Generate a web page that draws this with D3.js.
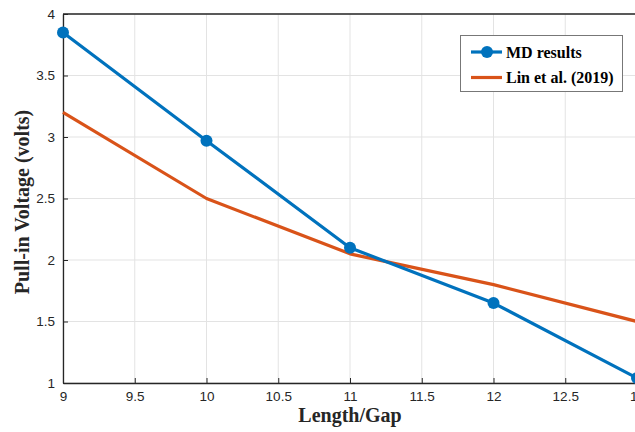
<!DOCTYPE html>
<html><head><meta charset="utf-8">
<script src="https://cdn.jsdelivr.net/npm/d3@7"></script>
<style>body{margin:0;background:#fff;} svg{display:block;overflow:hidden;}</style>
</head><body>
<svg id="c" width="635" height="432"></svg>
<script>
const xTicks = [9, 9.5, 10, 10.5, 11, 11.5, 12, 12.5, 13];
const yTicks = [1, 1.5, 2, 2.5, 3, 3.5, 4];
const lengthGap = [9, 10, 11, 12, 13];
const mdResults = [3.85, 2.97, 2.10, 1.65, 1.04];
const linResults = [3.20, 2.50, 2.05, 1.80, 1.50];
const seriesNames = ["MD results", "Lin et al. (2019)"];
const colors = ["#0072BD", "#D95319"];

const svg = d3.select("#c");
const L = 63, R = 637, T = 14, B = 383;
const x = d3.scaleLinear().domain([9, 13]).range([L, R]);
const y = d3.scaleLinear().domain([1, 4]).range([B, T]);

// grid
svg.append("g").selectAll("line").data(xTicks).join("line")
  .attr("x1", d => x(d)).attr("x2", d => x(d)).attr("y1", T).attr("y2", B)
  .attr("stroke", "#e3e3e3").attr("stroke-width", 1);
svg.append("g").selectAll("line").data(yTicks).join("line")
  .attr("x1", L).attr("x2", R).attr("y1", d => y(d)).attr("y2", d => y(d))
  .attr("stroke", "#e3e3e3").attr("stroke-width", 1);

// axes
const fmt = d => String(d);
const xa = svg.append("g").attr("transform", `translate(0,${B})`)
  .call(d3.axisBottom(x).tickValues(xTicks).tickFormat(fmt).tickSizeInner(-5).tickSizeOuter(0).tickPadding(8));
const ya = svg.append("g").attr("transform", `translate(${L},0)`)
  .call(d3.axisLeft(y).tickValues(yTicks).tickFormat(fmt).tickSizeInner(-5).tickSizeOuter(0).tickPadding(8));
[xa, ya].forEach(a => {
  a.select(".domain").attr("stroke", "#262626").attr("stroke-width", 1.3);
  a.selectAll(".tick line").attr("stroke", "#262626");
  a.selectAll("text").attr("fill", "#262626").style("font-family", "Liberation Sans, Arial, sans-serif").style("font-size", "13.5px");
});
// top / right border
svg.append("line").attr("x1", L).attr("x2", R).attr("y1", T).attr("y2", T).attr("stroke", "#262626").attr("stroke-width", 1.3);
svg.append("line").attr("x1", R).attr("x2", R).attr("y1", T).attr("y2", B).attr("stroke", "#262626").attr("stroke-width", 1.3);

// lines
const line = d3.line().x((d, i) => x(lengthGap[i])).y(d => y(d));
svg.append("path").datum(linResults).attr("d", line).attr("fill", "none")
  .attr("stroke", colors[1]).attr("stroke-width", 3.2).attr("stroke-linejoin", "round");
svg.append("path").datum(mdResults).attr("d", line).attr("fill", "none")
  .attr("stroke", colors[0]).attr("stroke-width", 3.2).attr("stroke-linejoin", "round");
svg.append("g").selectAll("circle").data(mdResults).join("circle")
  .attr("cx", (d, i) => x(lengthGap[i])).attr("cy", d => y(d)).attr("r", 6).attr("fill", colors[0]);

// axis titles
svg.append("text").attr("x", 350).attr("y", 422).attr("text-anchor", "middle")
  .style("font-family", "Liberation Serif, Times New Roman, serif").style("font-weight", "bold").style("font-size", "20px")
  .attr("fill", "#262626").text("Length/Gap");
svg.append("text").attr("transform", "translate(29,202) rotate(-90)").attr("text-anchor", "middle")
  .style("font-family", "Liberation Serif, Times New Roman, serif").style("font-weight", "bold").style("font-size", "20px")
  .attr("fill", "#262626").text("Pull-in Voltage (volts)");

// legend
const lg = svg.append("g");
lg.append("rect").attr("x", 460.5).attr("y", 35.5).attr("width", 162).attr("height", 56)
  .attr("fill", "#fff").attr("stroke", "#777").attr("stroke-width", 1);
seriesNames.forEach((n, i) => {
  const yy = 52 + i * 25.5;
  lg.append("line").attr("x1", 471).attr("x2", 502).attr("y1", yy).attr("y2", yy)
    .attr("stroke", colors[i]).attr("stroke-width", 3.2);
  if (i === 0) lg.append("circle").attr("cx", 487).attr("cy", yy).attr("r", 6).attr("fill", colors[i]);
  lg.append("text").attr("x", 506).attr("y", yy + 5.5)
    .style("font-family", "Liberation Serif, Times New Roman, serif").style("font-weight", "bold").style("font-size", "16px")
    .attr("fill", "#000").text(n);
});
</script>
</body></html>
